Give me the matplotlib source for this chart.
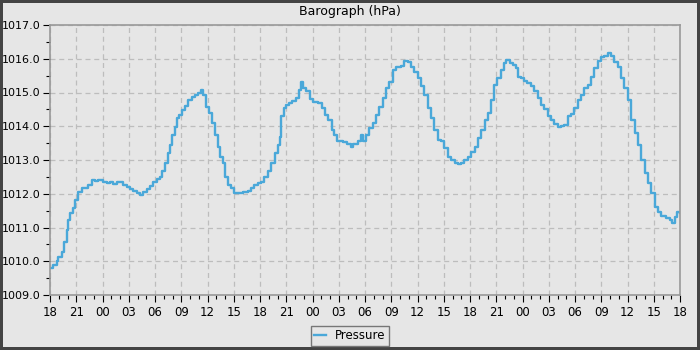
"""Barograph (hPa) - 72 hour pressure trace."""

import matplotlib
matplotlib.use("Agg")
import matplotlib.pyplot as plt
from matplotlib.ticker import FixedLocator, MultipleLocator

# hours since 18:00 on the first day
hours = [
    0.0, 0.38, 0.76, 0.95, 1.33, 1.64, 1.9, 2.1, 2.29, 2.67, 2.86, 3.24, 3.62,
    4.0, 4.38, 4.76, 5.14, 5.52, 6.1, 6.48, 6.86, 7.24, 7.62, 8.0, 8.38, 8.76,
    9.14, 9.52, 9.9, 10.29, 10.67, 11.05, 11.43, 11.81, 12.19, 12.57, 12.84,
    13.14, 13.45, 13.71, 13.98, 14.29, 14.48, 14.74, 15.05, 15.43, 15.81,
    16.19, 16.57, 16.95, 17.26, 17.5, 17.81, 18.19, 18.57, 18.88, 19.15,
    19.42, 19.72, 20.03, 20.3, 20.68, 21.07, 21.45, 22.02, 22.6, 22.98, 23.36,
    23.75, 24.13, 24.51, 24.9, 25.28, 25.66, 26.05, 26.31, 26.43, 26.7, 27.0,
    27.31, 27.69, 28.15, 28.46, 28.65, 28.92, 29.3, 29.69, 30.07, 30.64,
    31.03, 31.41, 31.79, 32.18, 32.44, 32.75, 33.13, 33.52, 33.9, 34.36,
    34.67, 35.24, 35.54, 35.73, 36.11, 36.5, 36.88, 37.26, 37.64, 38.02,
    38.4, 38.79, 39.17, 39.55, 40.12, 40.5, 40.89, 41.27, 41.65, 42.03, 42.41,
    42.79, 43.18, 43.56, 43.94, 44.32, 44.7, 45.08, 45.47, 45.85, 46.23,
    46.61, 46.99, 47.37, 47.76, 48.14, 48.52, 48.9, 49.28, 49.66, 50.05,
    50.43, 50.73, 51.11, 51.5, 51.88, 52.15, 52.53, 52.91, 53.29, 53.5, 53.81,
    54.19, 54.57, 54.96, 55.34, 55.72, 56.1, 56.48, 56.87, 57.25, 57.63,
    58.01, 58.39, 58.78, 59.16, 59.54, 59.92, 60.3, 60.69, 61.07, 61.45,
    61.83, 62.22, 62.6, 62.98, 63.36, 63.74, 64.13, 64.51, 64.89, 65.27,
    65.65, 66.04, 66.42, 66.8, 67.18, 67.57, 67.95, 68.33, 68.71, 69.09,
    69.48, 69.86, 70.43, 70.81, 71.08, 71.39, 71.62, 72.0,
]
pressure = [
    1009.79, 1009.89, 1010.02, 1010.14, 1010.28, 1010.58, 1010.93, 1011.22,
    1011.44, 1011.57, 1011.82, 1012.06, 1012.16, 1012.16, 1012.26, 1012.41,
    1012.39, 1012.41, 1012.34, 1012.31, 1012.34, 1012.29, 1012.36, 1012.36,
    1012.26, 1012.21, 1012.13, 1012.09, 1012.01, 1011.96, 1012.04, 1012.13,
    1012.23, 1012.34, 1012.43, 1012.51, 1012.66, 1012.9, 1013.2, 1013.45,
    1013.74, 1013.99, 1014.24, 1014.34, 1014.48, 1014.6, 1014.78, 1014.86,
    1014.93, 1015.0, 1015.06, 1014.93, 1014.58, 1014.39, 1014.09, 1013.74,
    1013.4, 1013.1, 1012.9, 1012.51, 1012.26, 1012.16, 1012.03, 1012.01,
    1012.04, 1012.09, 1012.16, 1012.26, 1012.33, 1012.36, 1012.51, 1012.66,
    1012.9, 1013.2, 1013.45, 1013.69, 1014.29, 1014.53, 1014.63, 1014.68,
    1014.75, 1014.83, 1015.08, 1015.32, 1015.13, 1015.03, 1014.8, 1014.73,
    1014.68, 1014.53, 1014.34, 1014.19, 1013.89, 1013.74, 1013.55, 1013.55,
    1013.52, 1013.48, 1013.4, 1013.48, 1013.55, 1013.74, 1013.55, 1013.74,
    1013.94, 1014.09, 1014.34, 1014.58, 1014.83, 1015.13, 1015.32, 1015.67,
    1015.77, 1015.79, 1015.92, 1015.89, 1015.77, 1015.62, 1015.42, 1015.18,
    1014.93, 1014.53, 1014.24, 1013.89, 1013.59, 1013.55, 1013.35, 1013.1,
    1013.0, 1012.92, 1012.88, 1012.92, 1013.0, 1013.1, 1013.25, 1013.4,
    1013.64, 1013.89, 1014.19, 1014.39, 1014.78, 1015.23, 1015.42, 1015.67,
    1015.87, 1015.95, 1015.87, 1015.82, 1015.72, 1015.47, 1015.42, 1015.34,
    1015.27, 1015.18, 1015.03, 1014.83, 1014.63, 1014.5, 1014.29, 1014.19,
    1014.07, 1013.97, 1014.01, 1014.04, 1014.29, 1014.36, 1014.53, 1014.78,
    1014.93, 1015.13, 1015.23, 1015.47, 1015.72, 1015.92, 1016.05, 1016.07,
    1016.16, 1016.07, 1015.89, 1015.77, 1015.42, 1015.13, 1014.78, 1014.19,
    1013.79, 1013.45, 1013.0, 1012.61, 1012.31, 1012.01, 1011.62, 1011.47,
    1011.34, 1011.27, 1011.22, 1011.12, 1011.32, 1011.47, 1011.42,
]

tick_hours = list(range(0, 73, 3))
tick_labels = ["18", "21", "00", "03", "06", "09", "12", "15"] * 3 + ["18"]

BG = "#e6e6e6"
LINE = "#4aa8d9"
SPINE = "#999999"

fig = plt.figure(figsize=(7, 3.5), dpi=100, facecolor=BG,
                 edgecolor="#444444", linewidth=4)
ax = fig.add_axes([50 / 700, 1 - 295 / 350, 630 / 700, 270 / 350])
ax.set_facecolor(BG)

ax.plot(hours, pressure, color=LINE, linewidth=1.7, drawstyle="steps-post",
        label="Pressure")

ax.set_xlim(0, 72)
ax.set_ylim(1009.0, 1017.0)
ax.xaxis.set_major_locator(FixedLocator(tick_hours))
ax.set_xticklabels(tick_labels)
ax.xaxis.set_minor_locator(MultipleLocator(1))
ax.yaxis.set_major_locator(MultipleLocator(1.0))
ax.yaxis.set_minor_locator(MultipleLocator(0.5))
ax.yaxis.set_major_formatter(matplotlib.ticker.FormatStrFormatter("%.1f"))

ax.tick_params(which="major", length=5, width=0.8, color="black", pad=3)
ax.tick_params(axis="x", which="major", labelsize=8.5)
ax.tick_params(axis="y", which="major", labelsize=8, pad=2)
ax.tick_params(which="minor", length=3, width=0.8, color="black")
ax.tick_params(top=False, right=False)

for side in ax.spines.values():
    side.set_color(SPINE)
    side.set_linewidth(1.2)

ax.grid(which="major", color="#bdbdbd", linestyle=(0, (4, 3)), linewidth=0.9)
ax.set_axisbelow(True)

fig.text(0.5, 1 - 12 / 350, "Barograph (hPa)", ha="center", va="center",
         fontsize=9)

leg = fig.legend(loc="lower center", bbox_to_anchor=(0.5, -0.005),
                 fontsize=8.5, handlelength=1.0, fancybox=False,
                 framealpha=1, borderpad=0.3)
leg.get_frame().set_facecolor(BG)
leg.get_frame().set_edgecolor("#777777")

fig.savefig("out.png", dpi=100, facecolor=fig.get_facecolor(),
            edgecolor=fig.get_edgecolor())
